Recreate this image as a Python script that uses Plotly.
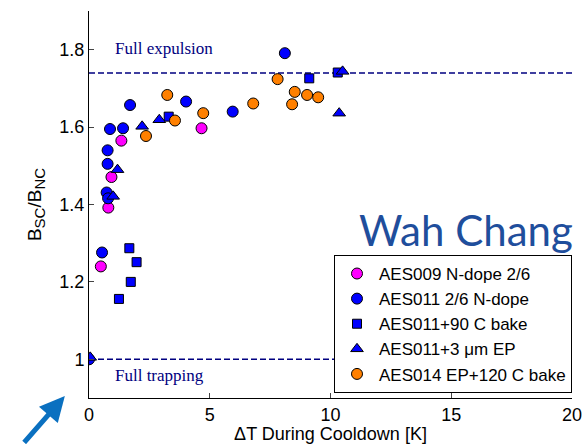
import plotly.graph_objects as go

# ---- data ----
aes009_x = [0.49, 0.80, 0.93, 1.34, 4.66]
aes009_y = [1.240, 1.392, 1.471, 1.565, 1.597]

aes011_x = [0.00, 0.54, 0.73, 0.79, 0.77, 0.77, 0.87, 1.41, 1.70, 4.02, 5.95, 8.11]
aes011_y = [1.000, 1.276, 1.431, 1.416, 1.505, 1.540, 1.595, 1.597, 1.657, 1.666, 1.640, 1.791]

bake90_x = [1.24, 1.73, 1.97, 1.67, 3.30, 9.12, 10.30]
bake90_y = [1.156, 1.200, 1.251, 1.287, 1.627, 1.726, 1.741]

ep3_x = [0.05, 1.00, 1.18, 2.20, 2.91, 10.36, 10.50]
ep3_y = [1.005, 1.421, 1.490, 1.602, 1.619, 1.636, 1.744]

aes014_x = [2.36, 3.24, 3.56, 4.73, 6.80, 7.81, 8.41, 8.52, 9.03, 9.49]
aes014_y = [1.577, 1.683, 1.617, 1.636, 1.661, 1.724, 1.659, 1.691, 1.683, 1.677]

series_names = ["AES009 N-dope 2/6", "AES011 2/6 N-dope", "AES011+90 C bake",
                "AES011+3 \u03bcm EP", "AES014 EP+120 C bake"]

full_expulsion = 1.74
full_trapping = 1.0
x_ticks = [0, 5, 10, 15, 20]
y_ticks = [1.0, 1.2, 1.4, 1.6, 1.8]
y_ticktext = ["1", "1.2", "1.4", "1.6", "1.8"]

fig = go.Figure()

def add(xs, ys, name, color, symbol, size):
    fig.add_trace(go.Scatter(
        x=xs, y=ys, mode="markers", name=name,
        marker=dict(color=color, symbol=symbol, size=size,
                    line=dict(color="black", width=1)),
    ))

add(aes009_x, aes009_y, series_names[0], "#FF00FF", "circle", 11)
add(aes011_x, aes011_y, series_names[1], "#0000FF", "circle", 11)
add(bake90_x, bake90_y, series_names[2], "#0000FF", "square", 9)
add(ep3_x, ep3_y, series_names[3], "#0000FF", "triangle-up", 11)
add(aes014_x, aes014_y, series_names[4], "#FF8000", "circle", 11)

for yv in (full_expulsion, full_trapping):
    fig.add_shape(type="line", xref="paper", x0=0, x1=1, yref="y", y0=yv, y1=yv,
                  line=dict(color="#000080", width=1.5, dash="6px,3px"), layer="below")

fig.add_annotation(x=1.0, y=1.802, xref="x", yref="y", text="Full expulsion",
                   showarrow=False, xanchor="left", yanchor="middle",
                   font=dict(family="Liberation Serif", size=17, color="#000080"))
fig.add_annotation(x=1.0, y=0.957, xref="x", yref="y", text="Full trapping",
                   showarrow=False, xanchor="left", yanchor="middle",
                   font=dict(family="Liberation Serif", size=17, color="#000080"))
fig.add_annotation(x=0.78, y=0.435, xref="paper", yref="paper", text="Wah Chang",
                   showarrow=False, xanchor="center", yanchor="middle",
                   font=dict(family="Lato", size=42, color="#1F4E9C"))

# blue arrow at bottom-left
fig.add_annotation(x=-0.05, y=0.005, xref="paper", yref="paper", text="",
                   showarrow=True, arrowhead=2, arrowsize=1, arrowwidth=5,
                   arrowcolor="#0A70C0", ax=-42, ay=54, axref="pixel", ayref="pixel")

fig.update_layout(
    width=586, height=444,
    margin=dict(l=89, r=14, t=11, b=46),
    paper_bgcolor="white", plot_bgcolor="white",
    font=dict(family="Liberation Sans", size=18, color="black"),
    showlegend=True,
    legend=dict(x=1.0, y=0.013, xanchor="right", yanchor="bottom",
                bgcolor="white", bordercolor="black", borderwidth=1,
                itemwidth=34,
                font=dict(family="Liberation Sans", size=17, color="black")),
    xaxis=dict(range=[0, 20], tickvals=x_ticks, ticks="inside", ticklen=5,
               showline=True, linecolor="black", linewidth=1, showgrid=False,
               zeroline=False, tickfont=dict(size=18), automargin=False,
               title=dict(text="\u0394T During Cooldown [K]", font=dict(size=18), standoff=2)),
    yaxis=dict(range=[0.9, 1.9], tickvals=y_ticks, ticktext=y_ticktext,
               ticks="inside", ticklen=5,
               showline=True, linecolor="black", linewidth=1, showgrid=False,
               zeroline=False, tickfont=dict(size=18), automargin=False,
               title=dict(text="B<sub><span style='font-size:15px'>SC</span></sub>/B<sub><span style='font-size:15px'>NC</span></sub>",
                          font=dict(size=19), standoff=12)),
)

fig.write_html("out.html")
